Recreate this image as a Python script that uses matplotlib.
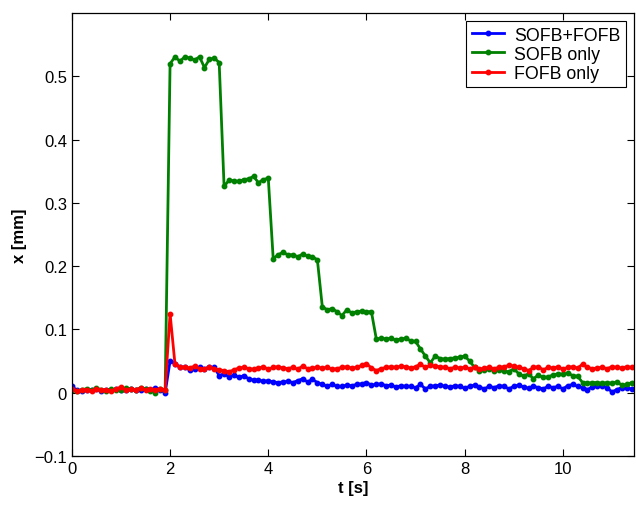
import numpy as np
import matplotlib
matplotlib.use("Agg")
from matplotlib import pyplot as plt

# time axis: one sample every 0.1 s
t = np.round(np.arange(0, 11.45, 0.1), 1)

# SOFB+FOFB
both = [0.010, 0.004, 0.003, 0.005, 0.004, 0.006, 0.003, 0.005, 0.004, 0.006,
        0.005, 0.004, 0.006, 0.005, 0.004, 0.006, 0.005, 0.007, 0.005, 0.000,
        0.050, 0.046, 0.040, 0.040, 0.036, 0.038, 0.040, 0.038, 0.040, 0.040,
        0.027, 0.030, 0.025, 0.028, 0.024, 0.027, 0.022, 0.020, 0.020, 0.018,
        0.019, 0.017, 0.016, 0.017, 0.018, 0.016, 0.019, 0.022, 0.017, 0.021,
        0.016, 0.013, 0.010, 0.013, 0.010, 0.010, 0.012, 0.011, 0.013, 0.014,
        0.016, 0.012, 0.013, 0.014, 0.011, 0.012, 0.009, 0.011, 0.010, 0.010,
        0.008, 0.013, 0.006, 0.010, 0.011, 0.012, 0.010, 0.009, 0.011, 0.010,
        0.007, 0.010, 0.012, 0.009, 0.006, 0.010, 0.008, 0.011, 0.010, 0.006,
        0.010, 0.012, 0.009, 0.007, 0.010, 0.008, 0.006, 0.010, 0.008, 0.010,
        0.006, 0.011, 0.013, 0.010, 0.008, 0.005, 0.009, 0.010, 0.011, 0.008,
        0.001, 0.005, 0.008, 0.007, 0.006]

# SOFB only
sofb = [0.004, 0.002, 0.005, 0.006, 0.004, 0.007, 0.005, 0.003, 0.006, 0.004,
        0.005, 0.007, 0.006, 0.004, 0.008, 0.006, 0.003, 0.000, 0.006, 0.004,
        0.520, 0.531, 0.524, 0.531, 0.529, 0.526, 0.531, 0.514, 0.527, 0.529,
        0.522, 0.326, 0.336, 0.335, 0.334, 0.337, 0.338, 0.342, 0.332, 0.337,
        0.339, 0.212, 0.218, 0.222, 0.218, 0.218, 0.215, 0.219, 0.216, 0.215,
        0.210, 0.136, 0.131, 0.133, 0.128, 0.122, 0.131, 0.126, 0.128, 0.129,
        0.128, 0.128, 0.085, 0.086, 0.085, 0.086, 0.083, 0.085, 0.086, 0.082,
        0.081, 0.069, 0.058, 0.047, 0.058, 0.054, 0.053, 0.054, 0.055, 0.056,
        0.058, 0.050, 0.040, 0.035, 0.036, 0.037, 0.035, 0.036, 0.034, 0.033,
        0.038, 0.030, 0.026, 0.030, 0.022, 0.028, 0.024, 0.025, 0.028, 0.030,
        0.029, 0.031, 0.027, 0.026, 0.016, 0.015, 0.016, 0.016, 0.015, 0.016,
        0.015, 0.017, 0.012, 0.013, 0.016]

# FOFB only
fofb = [0.006, 0.003, 0.004, 0.005, 0.003, 0.006, 0.004, 0.005, 0.003, 0.006,
        0.009, 0.004, 0.006, 0.005, 0.007, 0.004, 0.006, 0.005, 0.006, 0.005,
        0.125, 0.045, 0.041, 0.040, 0.039, 0.042, 0.038, 0.037, 0.041, 0.038,
        0.036, 0.035, 0.033, 0.036, 0.039, 0.040, 0.038, 0.037, 0.039, 0.041,
        0.037, 0.040, 0.041, 0.039, 0.038, 0.040, 0.037, 0.042, 0.038, 0.039,
        0.040, 0.039, 0.040, 0.037, 0.038, 0.040, 0.041, 0.039, 0.040, 0.043,
        0.046, 0.039, 0.035, 0.038, 0.040, 0.041, 0.040, 0.042, 0.041, 0.039,
        0.041, 0.045, 0.040, 0.043, 0.042, 0.041, 0.040, 0.038, 0.040, 0.039,
        0.040, 0.038, 0.040, 0.037, 0.039, 0.040, 0.038, 0.040, 0.041, 0.043,
        0.042, 0.040, 0.038, 0.035, 0.040, 0.041, 0.036, 0.040, 0.039, 0.041,
        0.037, 0.040, 0.041, 0.039, 0.045, 0.040, 0.038, 0.039, 0.040, 0.038,
        0.041, 0.040, 0.039, 0.041, 0.040]

series_names = ['SOFB+FOFB', 'SOFB only', 'FOFB only']
x_ticks = [0, 2, 4, 6, 8, 10]
y_ticks = [-0.1, 0, 0.1, 0.2, 0.3, 0.4, 0.5]

plt.rcParams['font.family'] = ['Liberation Sans', 'DejaVu Sans']

fig = plt.figure(figsize=(6.36, 5.06), dpi=100)
ax = fig.add_axes([0.113, 0.097, 0.884, 0.875])

style = dict(lw=2, marker='o', ms=3.2)
ax.plot(t, both, color='#0000ff', label=series_names[0], **style)
ax.plot(t, sofb, color='#008000', label=series_names[1], **style)
ax.plot(t, fofb, color='#ff0000', label=series_names[2], **style)

ax.set_xlim(0, 11.45)
ax.set_ylim(-0.1, 0.6)
ax.set_xticks(x_ticks)
ax.set_xticklabels([str(v) for v in x_ticks])
ax.set_yticks(y_ticks)
ax.set_yticklabels(['\u22120.1' if v < 0 else ('0' if v == 0 else f'{v:g}') for v in y_ticks])
ax.tick_params(direction='in', top=True, right=True, labelsize=12, length=5, width=0.8)
for s in ax.spines.values():
    s.set_linewidth(0.9)

ax.set_xlabel('t [s]', fontsize=12, fontweight='bold', labelpad=3)
ax.set_ylabel('x [mm]', fontsize=12, fontweight='bold', labelpad=5)

leg = ax.legend(loc='upper right', fontsize=12.8, fancybox=False, framealpha=1,
                edgecolor='black', borderaxespad=0.45, handlelength=1.8,
                labelspacing=0.12, borderpad=0.3, handletextpad=0.6)
leg.get_frame().set_linewidth(0.8)

fig.savefig('out.png', dpi=100)
